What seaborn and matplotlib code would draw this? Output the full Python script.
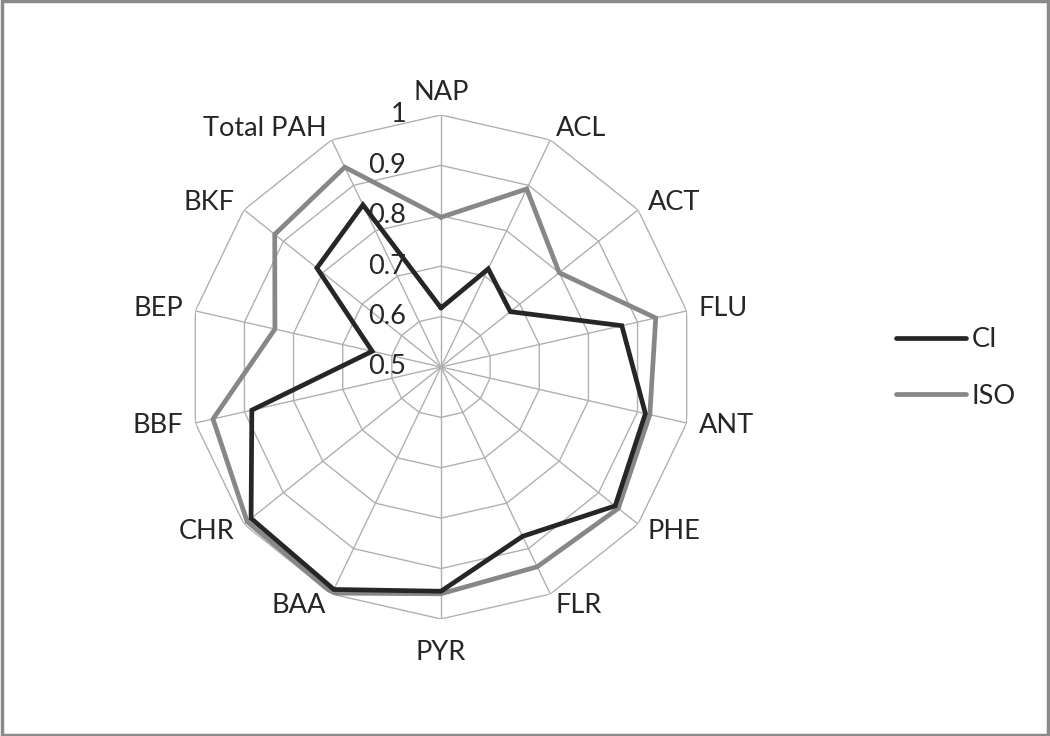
import numpy as np
import matplotlib
matplotlib.use("Agg")
import matplotlib.pyplot as plt
import seaborn as sns
from matplotlib.patches import Rectangle

# -----------------------------
# Data
# -----------------------------
categories = ["NAP", "ACL", "ACT", "FLU", "ANT", "PHE", "FLR",
              "PYR", "BAA", "CHR", "BBF", "BEP", "BKF", "Total PAH"]
ci_values = [0.617, 0.716, 0.676, 0.868, 0.916, 0.942, 0.873,
             0.945, 0.99, 0.982, 0.885, 0.64, 0.815, 0.857]
iso_values = [0.797, 0.892, 0.80, 0.937, 0.925, 0.95, 0.94,
              0.95, 0.998, 0.992, 0.964, 0.838, 0.922, 0.94]
ring_levels = [0.6, 0.7, 0.8, 0.9, 1.0]
ring_labels = ["0.5", "0.6", "0.7", "0.8", "0.9", "1"]

# -----------------------------
# Style
# -----------------------------
sns.set_style("white")
plt.rcParams["font.family"] = ["Lato", "DejaVu Sans"]
font_size = 19.5
text_color = "#262626"
grid_color = "#b0b0b0"

n = len(categories)
theta = np.linspace(0, 2 * np.pi, n, endpoint=False)
theta_closed = np.append(theta, theta[0])

fig = plt.figure(figsize=(10.5, 7.36), dpi=100)
ax = fig.add_axes([0.18, 0.159, 0.48, 0.6848], projection="polar")
ax.set_theta_offset(np.pi / 2)
ax.set_theta_direction(-1)
ax.set_ylim(0.5, 1.0)

# polygon rings (Excel style) instead of circles
ax.yaxis.grid(False)
ax.spines["polar"].set_visible(False)
for lvl in ring_levels:
    ax.plot(theta_closed, [lvl] * (n + 1), color=grid_color, lw=1, zorder=1)

# spokes
ax.set_xticks(theta)
ax.set_xticklabels([])
ax.xaxis.grid(True, color=grid_color, lw=1)
ax.set_yticks([])

# radial tick labels left of the top spoke
for i, lab in enumerate(ring_labels):
    r = 0.5 + 0.1 * i
    ax.annotate(lab, xy=(0, r), xytext=(-25, 0), textcoords="offset points",
                ha="right", va="center", fontsize=font_size, color=text_color,
                zorder=5)

# category labels
for t, cat in zip(theta, categories):
    s, c = np.sin(t), np.cos(t)
    ha = "left" if s > 0.1 else ("right" if s < -0.1 else "center")
    if c > 0.95:
        va = "bottom"
    elif c < -0.95:
        va = "top"
    else:
        va = "center"
    dx, dy = 9 * s, 9 * c
    if abs(c) > 0.95:
        dy = 7 if c > 0 else -15
    ax.annotate(cat, xy=(t, 1.0), xytext=(dx, dy), textcoords="offset points",
                ha=ha, va=va, fontsize=font_size, color=text_color,
                annotation_clip=False)

# series
ax.plot(theta_closed, ci_values + ci_values[:1], color="#262626", lw=3.4,
        label="CI", zorder=3, solid_joinstyle="miter")
ax.plot(theta_closed, iso_values + iso_values[:1], color="#878787", lw=3.4,
        label="ISO", zorder=2, solid_joinstyle="miter")

leg = fig.legend(loc="center left", bbox_to_anchor=(0.83, 0.5), frameon=False,
                 fontsize=font_size, handlelength=2.6, handletextpad=0.2,
                 labelspacing=1.15)
for txt in leg.get_texts():
    txt.set_color(text_color)

# chart border
fig.patches.append(Rectangle((0.0015, 0.002), 0.997, 0.996, transform=fig.transFigure,
                             fill=False, edgecolor="#8a8a8a", lw=2.5))

fig.savefig("out.png", dpi=100)
